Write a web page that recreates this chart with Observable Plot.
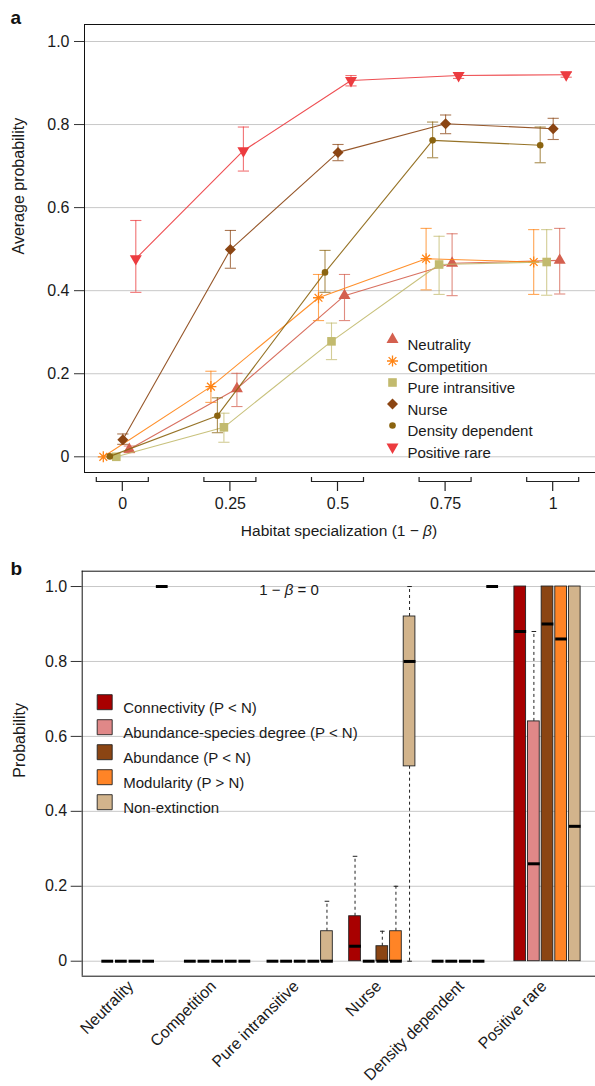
<!DOCTYPE html>
<html><head><meta charset="utf-8">
<script src="https://cdn.jsdelivr.net/npm/d3@7"></script>
<script src="https://cdn.jsdelivr.net/npm/@observablehq/plot@0.6"></script>
<style>
body{margin:0;background:#fff;}
#wrap{position:relative;width:595px;height:1086px;font-family:"Liberation Sans",Arial,Helvetica,sans-serif;color:#1a1a1a;overflow:hidden;background:#fff}
#wrap svg{position:absolute;left:0}
.ov{position:absolute;line-height:18px;white-space:nowrap;color:#1a1a1a}
</style></head><body><div id="wrap"></div>
<script>
// ---------- Panel a data ----------
const habitat = [0, 0.25, 0.5, 0.75, 1];
const habitatLabels = ["0", "0.25", "0.5", "0.75", "1"];
const seriesNames = ["Neutrality", "Competition", "Pure intransitive", "Nurse", "Density dependent", "Positive rare"];
const seriesColors = ["#D4604F", "#FF8415", "#C2BA6E", "#8B4513", "#8B6410", "#EC3B3F"];
const neutralityMean  = [0.018, 0.164, 0.388, 0.466, 0.473];
const neutralityLow   = [0.010, 0.121, 0.328, 0.388, 0.392];
const neutralityHigh  = [0.026, 0.201, 0.439, 0.537, 0.550];
const competitionMean = [0.000, 0.169, 0.383, 0.477, 0.469];
const competitionLow  = [0.000, 0.131, 0.328, 0.402, 0.391];
const competitionHigh = [0.000, 0.206, 0.439, 0.550, 0.547];
const intransitiveMean = [0.000, 0.071, 0.278, 0.463, 0.469];
const intransitiveLow  = [0.000, 0.035, 0.234, 0.391, 0.389];
const intransitiveHigh = [0.000, 0.105, 0.322, 0.531, 0.547];
const nurseMean = [0.041, 0.499, 0.733, 0.802, 0.790];
const nurseLow  = [0.030, 0.454, 0.713, 0.778, 0.764];
const nurseHigh = [0.055, 0.545, 0.752, 0.823, 0.815];
const densityMean = [0.001, 0.099, 0.444, 0.762, 0.750];
const densityLow  = [0.001, 0.058, 0.396, 0.720, 0.708];
const densityHigh = [0.001, 0.142, 0.497, 0.806, 0.794];
const rareMean = [0.477, 0.737, 0.906, 0.918, 0.920];
const rareLow  = [0.396, 0.688, 0.893, 0.911, 0.914];
const rareHigh = [0.569, 0.794, 0.918, 0.925, 0.926];
const probTicks = [0, 0.2, 0.4, 0.6, 0.8, 1.0];

// ---------- Panel b data (rows: models, columns: metrics) ----------
const metrics = ["Connectivity (P < N)", "Abundance-species degree (P < N)", "Abundance (P < N)", "Modularity (P > N)", "Non-extinction"];
const metricColors = ["#A80000", "#E08888", "#8B4513", "#FF8426", "#D2B48C"];
const boxMin    = [[0,0,0,0,1],[0,0,0,0,0],[0,0,0,0,0],[0,0,0,0,0],[0,0,0,0,1],[0,0,0,0,0]];
const boxQ1     = [[0,0,0,0,1],[0,0,0,0,0],[0,0,0,0,0],[0,0,0,0,0.52],[0,0,0,0,1],[0,0,0,0,0]];
const boxMedian = [[0,0,0,0,1],[0,0,0,0,0],[0,0,0,0,0],[0.04,0,0,0,0.80],[0,0,0,0,1],[0.88,0.26,0.90,0.86,0.36]];
const boxQ3     = [[0,0,0,0,1],[0,0,0,0,0],[0,0,0,0,0.08],[0.12,0,0.04,0.08,0.92],[0,0,0,0,1],[1,0.64,1,1,1]];
const boxMax    = [[0,0,0,0,1],[0,0,0,0,0],[0,0,0,0,0.16],[0.28,0,0.08,0.20,1],[0,0,0,0,1],[1,0.88,1,1,1]];

// ---------- symbols ----------
function sym(fn){ return {draw(ctx, size){ fn(ctx, Math.sqrt(size / Math.PI)); }}; }
const triUp = sym((c,r)=>{const h=r*Math.sqrt(3); c.moveTo(0,-h*2/3); c.lineTo(r,h/3); c.lineTo(-r,h/3); c.closePath();});
const triDown = sym((c,r)=>{const h=r*Math.sqrt(3); c.moveTo(0,h*2/3); c.lineTo(r,-h/3); c.lineTo(-r,-h/3); c.closePath();});
const sq = sym((c,r)=>{c.rect(-r,-r,2*r,2*r);});
const dia = sym((c,r)=>{c.moveTo(0,-r); c.lineTo(r,0); c.lineTo(0,r); c.lineTo(-r,0); c.closePath();});
const star8 = sym((c,r)=>{for(let k=0;k<4;k++){const a=k*Math.PI/4; c.moveTo(r*Math.cos(a), r*Math.sin(a)); c.lineTo(-r*Math.cos(a), -r*Math.sin(a));}});
const hline = sym((c,r)=>{c.moveTo(-r,0); c.lineTo(r,0);});

const FONT = '"Liberation Sans", Arial, Helvetica, sans-serif';
const wrap = document.getElementById("wrap");
const fmtProb = d => d === 0 ? "0" : d.toFixed(1);

// ---------- Panel a ----------
const seriesMean = [neutralityMean, competitionMean, intransitiveMean, nurseMean, densityMean, rareMean];
const seriesLow  = [neutralityLow, competitionLow, intransitiveLow, nurseLow, densityLow, rareLow];
const seriesHigh = [neutralityHigh, competitionHigh, intransitiveHigh, nurseHigh, densityHigh, rareHigh];
const seriesDodge = [1, -3, -1, 0, -2, 2];
const dodgeStep = 0.0151;
const seriesSymbol = [
  {symbol: triUp, r: 6, filled: true},
  {symbol: star8, r: 5.5, filled: false},
  {symbol: sq, r: 4.3, filled: true},
  {symbol: dia, r: 5.5, filled: true},
  {symbol: "circle", r: 3.3, filled: true},
  {symbol: triDown, r: 6, filled: true}
];
const xDomA = [-0.089, 1.0983];
const yDomA = [-0.0378, 1.0409];

const marksA = [
  Plot.gridY(probTicks, {stroke: "#c8c8c8", strokeOpacity: 1}),
  Plot.ruleY([yDomA[1]], {stroke: "#111"}),
  Plot.ruleY([yDomA[0]], {stroke: "#111"}),
  Plot.ruleX([xDomA[0]], {stroke: "#111"}),
  Plot.axisY(probTicks, {tickSize: 10, tickPadding: 5, tickFormat: fmtProb, fontSize: 16, label: null, stroke: "#333"})
];
seriesNames.forEach((name, s) => {
  const rows = habitat.map((h, i) => ({x: h + seriesDodge[s] * dodgeStep, mean: seriesMean[s][i], low: seriesLow[s][i], high: seriesHigh[s][i]}));
  const col = seriesColors[s];
  const bars = rows.filter(d => d.high > d.low);
  const sp = seriesSymbol[s];
  marksA.push(
    Plot.ruleX(bars, {x: "x", y1: "low", y2: "high", stroke: col, strokeOpacity: 0.72, strokeWidth: 1.1}),
    Plot.dot(bars, {x: "x", y: "low", symbol: hline, r: 5.6, fill: "none", stroke: col, strokeOpacity: 0.72, strokeWidth: 1.1}),
    Plot.dot(bars, {x: "x", y: "high", symbol: hline, r: 5.6, fill: "none", stroke: col, strokeOpacity: 0.72, strokeWidth: 1.1}),
    Plot.line(rows, {x: "x", y: "mean", stroke: col, strokeWidth: 1.1, strokeOpacity: 0.9}),
    Plot.dot(rows, {x: "x", y: "mean", symbol: sp.symbol, r: sp.r,
      fill: sp.filled ? col : "none", stroke: sp.filled ? "none" : col, strokeWidth: 1.3})
  );
  // legend entry
  marksA.push(
    Plot.dot([name], {frameAnchor: "top-left", dx: 308, dy: 315 + s * 21.5, symbol: sp.symbol, r: sp.r,
      fill: sp.filled ? col : "none", stroke: sp.filled ? "none" : col, strokeWidth: 1.3}),
    Plot.text([name], {frameAnchor: "top-left", dx: 323, dy: 315 + s * 21.5, text: d => d, textAnchor: "start", fontSize: 15, fill: "#1a1a1a"})
  );
});
marksA.push(
  Plot.text(habitat, {x: d => d, frameAnchor: "bottom", dy: 36, text: (d, i) => habitatLabels[i], fontSize: 16, fill: "#1a1a1a"}),
  (index, scales, values, dimensions) => {
    const ns = "http://www.w3.org/2000/svg";
    const yb = dimensions.height - dimensions.marginBottom;
    const g = document.createElementNS(ns, "g");
    g.setAttribute("fill", "none"); g.setAttribute("stroke", "#222"); g.setAttribute("stroke-width", "1.2");
    for (const t of habitat) {
      const cx = scales.x(t);
      const p = document.createElementNS(ns, "path");
      p.setAttribute("d", `M${cx-26},${yb+5}V${yb+9.5}H${cx+26}V${yb+5}M${cx},${yb+9.5}V${yb+19}`);
      g.appendChild(p);
    }
    return g;
  },
  Plot.text(["Average probability"], {frameAnchor: "left", dx: -66, dy: 6, rotate: -90, text: d => d, fontSize: 16, fill: "#1a1a1a"}),
  Plot.text(["a"], {frameAnchor: "top-left", dx: -74, dy: -1, text: d => d, fontSize: 19, fontWeight: "bold", textAnchor: "start", lineAnchor: "bottom", fill: "#111"})
);

const plotA = Plot.plot({
  width: 595, height: 548,
  marginTop: 24, marginBottom: 76, marginLeft: 84, marginRight: 0,
  x: {type: "linear", domain: xDomA, axis: null},
  y: {type: "linear", domain: yDomA},
  style: {fontFamily: FONT, fontSize: "16px", color: "#1a1a1a", background: "transparent", overflow: "visible"},
  marks: marksA
});
plotA.style.top = "0px";
wrap.appendChild(plotA);

// ---------- Panel b ----------
const boxDodge = 0.165, boxHalf = 0.0708;
const boxRows = [];
seriesNames.forEach((m, i) => metrics.forEach((k, j) => {
  boxRows.push({model: m, metric: k, color: metricColors[j], x: i + (j - 2) * boxDodge,
    min: boxMin[i][j], q1: boxQ1[i][j], median: boxMedian[i][j], q3: boxQ3[i][j], max: boxMax[i][j]});
}));
const xDomB = [-0.633, 5.581];
const yDomB = [-0.04, 1.0409];
const upperW = boxRows.filter(d => d.max > d.q3);
const lowerW = boxRows.filter(d => d.min < d.q1);
const boxes = boxRows.filter(d => d.q3 > d.q1);

const marksB = [
  Plot.gridY(probTicks, {stroke: "#c8c8c8", strokeOpacity: 1}),
  Plot.ruleY([yDomB[1]], {stroke: "#111"}),
  Plot.ruleY([yDomB[0]], {stroke: "#111"}),
  Plot.ruleX([xDomB[0]], {stroke: "#111"}),
  Plot.axisY(probTicks, {tickSize: 11, tickPadding: 4, tickFormat: fmtProb, fontSize: 16, label: null, stroke: "#333"}),
  Plot.ruleX(upperW, {x: "x", y1: "q3", y2: "max", stroke: "#222", strokeDasharray: "3,3", strokeWidth: 1}),
  Plot.ruleX(lowerW, {x: "x", y1: "min", y2: "q1", stroke: "#222", strokeDasharray: "3,3", strokeWidth: 1}),
  Plot.dot(upperW, {x: "x", y: "max", symbol: hline, r: 2.3, fill: "none", stroke: "#222", strokeWidth: 1}),
  Plot.dot(lowerW, {x: "x", y: "min", symbol: hline, r: 2.3, fill: "none", stroke: "#222", strokeWidth: 1}),
  Plot.rect(boxes, {x1: d => d.x - boxHalf, x2: d => d.x + boxHalf, y1: "q1", y2: "q3", fill: d => d.color, stroke: "#222", strokeWidth: 0.9}),
  Plot.dot(boxRows, {x: "x", y: "median", symbol: hline, r: 5.9, fill: "none", stroke: "#000", strokeWidth: 3}),
  Plot.text(seriesNames, {x: (d, i) => i, frameAnchor: "bottom", dy: 11, rotate: -45, textAnchor: "end", text: d => d, fontSize: 16, fill: "#1a1a1a"}),
  Plot.text(["Probability"], {frameAnchor: "left", dx: -62, dy: 4, rotate: -90, text: d => d, fontSize: 16, fill: "#1a1a1a"}),
  Plot.text(["b"], {frameAnchor: "top-left", dx: -71.7, dy: 3.3, text: d => d, fontSize: 19, fontWeight: "bold", textAnchor: "start", lineAnchor: "bottom", fill: "#111"})
];
metrics.forEach((k, j) => {
  marksB.push(
    Plot.dot([k], {frameAnchor: "top-left", dx: 22.5, dy: 131 + j * 25, symbol: sq, r: 7.5, fill: metricColors[j], stroke: "#222", strokeWidth: 0.9}),
    Plot.text([k], {frameAnchor: "top-left", dx: 41, dy: 131 + j * 25, text: d => d, textAnchor: "start", fontSize: 15, fill: "#1a1a1a"})
  );
});
const plotB = Plot.plot({
  width: 595, height: 538,
  marginTop: 22.7, marginBottom: 110.3, marginLeft: 81.7, marginRight: 0,
  x: {type: "linear", domain: xDomB, axis: null},
  y: {type: "linear", domain: yDomB},
  style: {fontFamily: FONT, fontSize: "16px", color: "#1a1a1a", background: "transparent", overflow: "visible"},
  marks: marksB
});
plotB.style.top = "548px";
wrap.appendChild(plotB);

// ---------- mixed-style titles ----------
const t1 = document.createElement("div");
t1.className = "ov";
t1.style.cssText = "left:139px;width:400px;top:521.6px;text-align:center;font-size:15.5px";
t1.innerHTML = "Habitat specialization (1 \u2212 <i>\u03B2</i>)";
wrap.appendChild(t1);
const t2 = document.createElement("div");
t2.className = "ov";
t2.style.cssText = "left:189px;width:200px;top:580.8px;text-align:center;font-size:15px";
t2.innerHTML = "1 \u2212 <i>\u03B2</i> = 0";
wrap.appendChild(t2);
</script></body></html>
